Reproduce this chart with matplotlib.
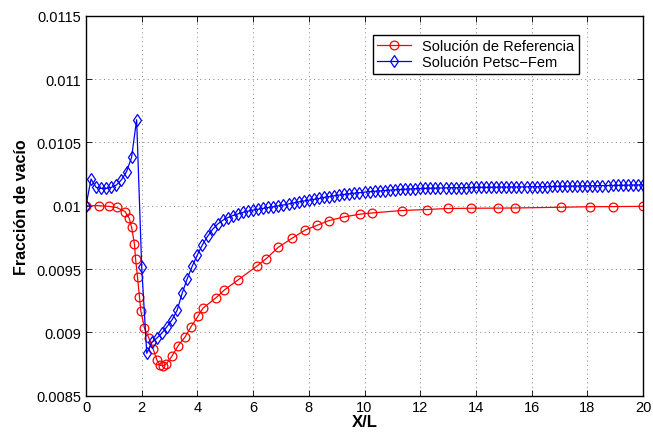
import numpy as np
import matplotlib.pyplot as plt

# reference solution (non-uniform grid)
x_ref = [0.0, 0.45, 0.82, 1.10, 1.40, 1.55, 1.64, 1.74, 1.78, 1.85, 1.92, 1.97,
         2.10, 2.26, 2.41, 2.55, 2.66, 2.78, 2.89, 3.10, 3.31, 3.55, 3.76, 4.02,
         4.20, 4.66, 4.97, 5.47, 6.15, 6.47, 6.90, 7.39, 7.88, 8.31, 8.73, 9.28,
         9.83, 10.28, 11.33, 12.24, 12.99, 13.83, 14.81, 15.40, 17.07, 18.10,
         18.91, 20.0]
y_ref = [0.01, 0.01, 0.009995, 0.009986, 0.009954, 0.009902, 0.009828, 0.009695,
         0.009579, 0.009435, 0.009282, 0.009167, 0.009033, 0.008954, 0.00887,
         0.008780, 0.008740, 0.008738, 0.008752, 0.008817, 0.008896, 0.008962,
         0.009041, 0.009128, 0.009191, 0.009272, 0.009335, 0.009416, 0.009526,
         0.009582, 0.009671, 0.009742, 0.009809, 0.009846, 0.009883, 0.009912,
         0.009933, 0.009943, 0.009962, 0.009970, 0.009978, 0.009980, 0.009981,
         0.009982, 0.009988, 0.009992, 0.009993, 0.009995]

# Petsc-Fem solution on 111 equally spaced nodes
y_fem = [0.01, 0.010211, 0.010145, 0.010137, 0.010137, 0.010145, 0.010163,
         0.010205, 0.010268, 0.010382, 0.010679, 0.009514, 0.008835, 0.008921,
         0.008955, 0.008995, 0.009045, 0.009100, 0.009175, 0.009310, 0.009425,
         0.009525, 0.009612, 0.009692, 0.009758, 0.009813, 0.009855, 0.009885,
         0.009906, 0.009922, 0.009935, 0.009947, 0.009957, 0.009965, 0.009972,
         0.009979, 0.009986, 0.009992, 0.009999, 0.010006, 0.010014, 0.010022,
         0.010030, 0.010037, 0.010043, 0.010050, 0.010057, 0.010065, 0.010072,
         0.010078, 0.010084, 0.010089, 0.010094, 0.010099, 0.010103, 0.010107,
         0.010111, 0.010114, 0.010117, 0.010120, 0.010123, 0.010126, 0.010128,
         0.010130, 0.010132, 0.010134, 0.010136, 0.010137, 0.010138, 0.010139,
         0.010140, 0.010141, 0.010142, 0.010142, 0.010143, 0.010143, 0.010144,
         0.010144, 0.010145, 0.010145, 0.010146, 0.010146, 0.010147, 0.010147,
         0.010148, 0.010148, 0.010149, 0.010149, 0.010150, 0.010150, 0.010151,
         0.010151, 0.010152, 0.010153, 0.010153, 0.010154, 0.010155, 0.010155,
         0.010156, 0.010157, 0.010157, 0.010158, 0.010159, 0.010159, 0.010160,
         0.010161, 0.010161, 0.010162, 0.010163, 0.010164, 0.010165]
x_fem = np.linspace(0, 20, len(y_fem))

xticks = [0, 2, 4, 6, 8, 10, 12, 14, 16, 18, 20]
yticks = [0.0085, 0.009, 0.0095, 0.01, 0.0105, 0.011, 0.0115]
ytick_labels = ["0.0085", "0.009", "0.0095", "0.01", "0.0105", "0.011", "0.0115"]

plt.rcParams['font.family'] = ['Liberation Sans', 'DejaVu Sans']

fig = plt.figure(figsize=(6.53, 4.35), dpi=100)
ax = fig.add_axes([0.1317, 0.088, 0.853, 0.8736])

ax.plot(x_ref, y_ref, color='r', lw=0.9, marker='o', ms=6.3, mfc='none',
        mew=0.9, label='Solución de Referencia')
ax.plot(x_fem, y_fem, color='b', lw=0.9, marker='d', ms=6.3, mfc='none',
        mew=0.9, label='Solución Petsc\u2212Fem')

ax.set_xlim(0, 20)
ax.set_ylim(0.0085, 0.0115)
ax.set_xticks(xticks)
ax.set_yticks(yticks)
ax.set_yticklabels(ytick_labels)
ax.tick_params(direction='in', length=4, labelsize=10.5, top=True, right=True,
               width=0.6)
ax.tick_params(axis='x', pad=3)
ax.grid(True, color='0.5', linestyle=(0, (1, 3.5)), linewidth=0.7)
for s in ax.spines.values():
    s.set_linewidth(1.0)

ax.set_xlabel("X/L", fontsize=12, fontweight='bold', labelpad=0)
ax.set_ylabel("Fracción de vacío", fontsize=11.5, fontweight='bold', labelpad=5)

leg = ax.legend(loc='upper left', bbox_to_anchor=(0.515, 0.95), fontsize=10.5,
                fancybox=False, framealpha=1, edgecolor='k', borderpad=0.3,
                handlelength=2.3, labelspacing=0.15, borderaxespad=0)
leg.get_frame().set_linewidth(1.0)

fig.savefig("out.png", dpi=100)
